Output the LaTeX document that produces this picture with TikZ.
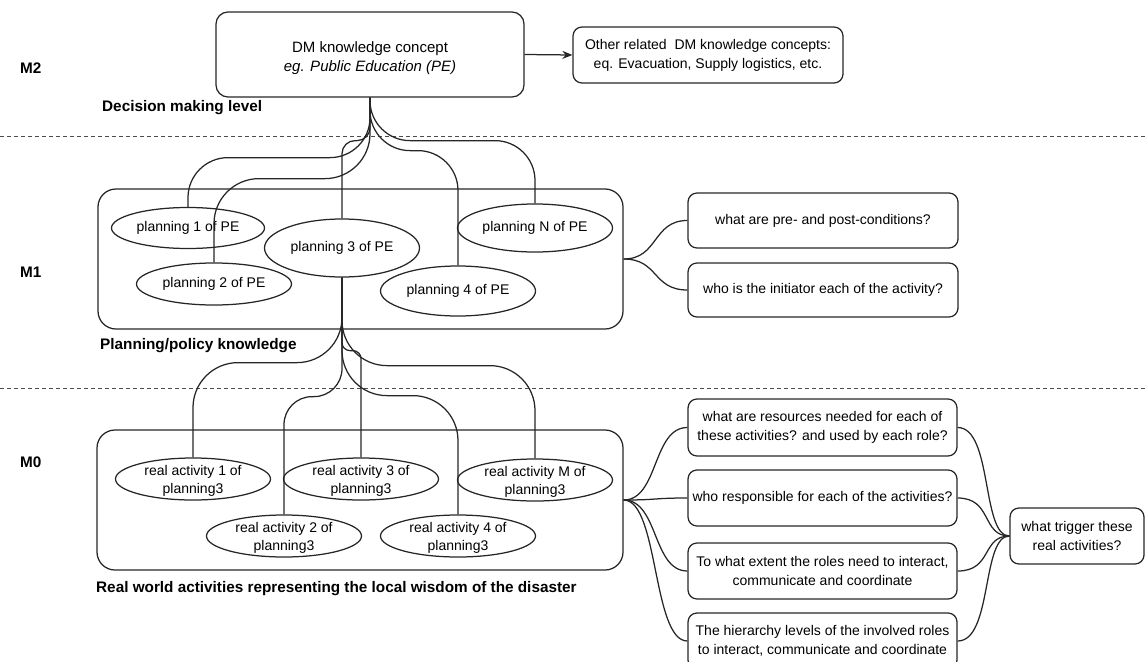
\documentclass[tikz,border=0pt]{standalone}
\usepackage{fontspec}
\setmainfont{Liberation Sans}
\usetikzlibrary{shapes.geometric,arrows.meta}
\begin{document}
\begin{tikzpicture}[x=1pt,y=-1pt,
  every node/.style={font=\fontsize{14}{17}\selectfont, text=black},
  conn/.style={draw=black!85, line width=1.25pt},
  rbox/.style={draw=black!85, line width=1.25pt, rounded corners=9pt, inner sep=0pt, align=center},
  bigbox/.style={draw=black!85, line width=1.25pt, rounded corners=18pt, inner sep=0pt},
  ellip/.style={draw=black!85, line width=1.25pt, ellipse, inner sep=0pt},
  etext/.style={align=center, inner sep=0pt, font=\fontsize{14}{18}\selectfont},
  lvl/.style={font=\fontsize{15.3}{18}\selectfont\bfseries, anchor=west, inner sep=0pt},
  dline/.style={draw=black!70, line width=0.9pt, dash pattern=on 4pt off 3pt},
]
\useasboundingbox (0,0) rectangle (1147,661);

% level separators
\coordinate (d1l) at (0,136);   \coordinate (d1r) at (1147,136);
\coordinate (d2l) at (0,388);   \coordinate (d2r) at (1147,388);
\draw[dline] (d1l) -- (d1r);
\draw[dline] (d2l) -- (d2r);

% level labels
\node[lvl] (lM2) at (20,68) {M2};
\node[lvl] (lM1) at (20,272) {M1};
\node[lvl] (lM0) at (20,462) {M0};
\node[lvl] (lDec) at (102,108) {Decision making level};
\node[lvl] (lPlan) at (100,346) {Planning/policy knowledge};
\node[lvl] (lReal) at (96,589) {Real world activities representing the local wisdom of the disaster};

% M2
\node[rbox, rounded corners=12pt, minimum width=308pt, minimum height=85pt] (top) at (370,54.5) {};
\node[align=center, inner sep=0pt, font=\fontsize{15}{19}\selectfont] (topt) at (370,58)
      {DM knowledge concept\\\textit{eg. Public Education (PE)}};
\node[rbox, minimum width=270pt, minimum height=56pt, font=\fontsize{14}{19}\selectfont] (other) at (708,55)
      {Other related~ DM knowledge concepts:\\eq. Evacuation, Supply logistics, etc.};
\draw[conn, -{Stealth[length=10pt,width=8pt]}] (top.east) -- (other.west);

% M1
\node[bigbox, minimum width=525pt, minimum height=140pt] (m1) at (360.5,259) {};
\node[ellip, minimum width=153pt, minimum height=41pt] (p1) at (188,228) {planning 1 of PE};
\node[ellip, minimum width=155pt, minimum height=42pt] (p2) at (214,284) {planning 2 of PE};
\node[ellip, minimum width=155pt, minimum height=58pt] (p3) at (342,248) {planning 3 of PE};
\node[ellip, minimum width=155pt, minimum height=50pt] (p4) at (458,291) {planning 4 of PE};
\node[ellip, minimum width=155pt, minimum height=48pt] (pN) at (535,228) {planning N of PE};

\draw[conn, rounded corners=40pt] (top.south) -- ++(0,60) -| (p1.north);
\draw[conn, rounded corners=45pt] (top.south) -- ++(0,81) -| (p2.north);
\draw[conn, rounded corners=13pt] (top.south) -- ++(0,43) -| (p3.north);
\draw[conn, rounded corners=40pt] (top.south) -- ++(0,53) -| (p4.north);
\draw[conn, rounded corners=40pt] (top.south) -- ++(0,43) -| (pN.north);

\node[rbox, minimum width=270pt, minimum height=55pt] (qa) at (823,220.5) {what are pre- and post-conditions?};
\node[rbox, minimum width=270pt, minimum height=54pt] (qb) at (823,290) {who is the initiator each of the activity?};
\draw[conn] (m1.east) .. controls +(35,0) and +(-35,0) .. (qa.west);
\draw[conn] (m1.east) .. controls +(35,0) and +(-35,0) .. (qb.west);

% M0
\node[bigbox, minimum width=526pt, minimum height=140pt] (m0) at (360,500) {};
\node[ellip, minimum width=155pt, minimum height=42pt] (r1) at (193,479) {};
\node[ellip, minimum width=155pt, minimum height=42pt] (r3) at (361,479) {};
\node[ellip, minimum width=155pt, minimum height=42pt] (rM) at (535,480) {};
\node[ellip, minimum width=155pt, minimum height=42pt] (r2) at (284,536) {};
\node[ellip, minimum width=155pt, minimum height=42pt] (r4) at (458,536) {};
\node[etext] (r1t) at (193,481) {real activity 1 of\\planning3};
\node[etext] (r3t) at (361,481) {real activity 3 of\\planning3};
\node[etext] (rMt) at (535,482) {real activity M of\\planning3};
\node[etext] (r2t) at (284,538) {real activity 2 of\\planning3};
\node[etext] (r4t) at (458,538) {real activity 4 of\\planning3};

\draw[conn, rounded corners=45pt] (p3.south) -- ++(0,85) -| (r1.north);
\draw[conn, rounded corners=28pt] (p3.south) -- ++(0,119) -| (r2.north);
\draw[conn, rounded corners=8pt] (p3.south) -- ++(0,73) -| (r3.north);
\draw[conn, rounded corners=45pt] (p3.south) -- ++(0,118) -| (r4.north);
\draw[conn, rounded corners=45pt] (p3.south) -- ++(0,88) -| (rM.north);

\node[rbox, minimum width=269pt, minimum height=57pt, font=\fontsize{14}{19}\selectfont] (q1) at (822.5,427.5)
  {what are resources needed for each of\\these activities? and used by each role?};
\node[rbox, minimum width=269pt, minimum height=56pt] (q2) at (822.5,498)
  {who responsible for each of the activities?};
\node[rbox, minimum width=269pt, minimum height=56pt, font=\fontsize{14}{19}\selectfont] (q3) at (822.5,571)
  {To what extent the roles need to interact,\\communicate and coordinate};
\node[rbox, minimum width=269pt, minimum height=56pt, font=\fontsize{14}{19}\selectfont] (q4) at (822.5,641)
  {The hierarchy levels of the involved roles\\to interact, communicate and coordinate};
\node[rbox, minimum width=134pt, minimum height=56pt, font=\fontsize{14}{19}\selectfont] (trig) at (1077,536)
  {what trigger these\\real activities?};

\foreach \q in {q1,q2,q3,q4}{
  \draw[conn] (m0.east) .. controls +(35,0) and +(-35,0) .. (\q.west);
  \draw[conn] (\q.east) .. controls +(35,0) and +(-28,0) .. (trig.west);
}
\end{tikzpicture}
\end{document}
